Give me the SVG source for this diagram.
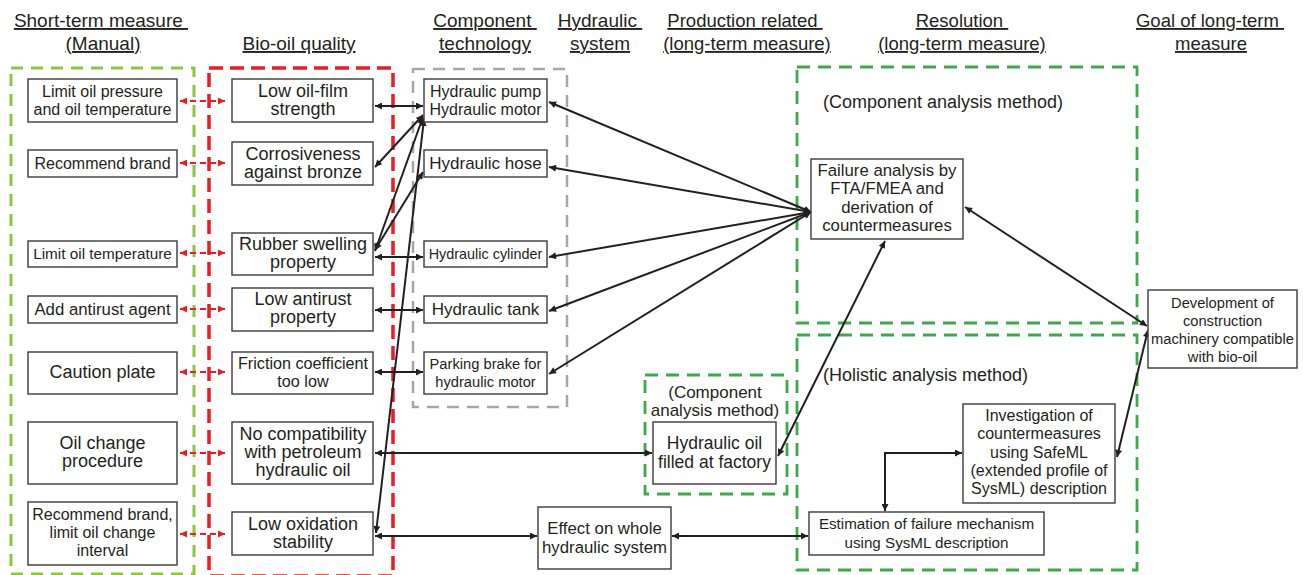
<svg xmlns="http://www.w3.org/2000/svg" width="1303" height="575" viewBox="0 0 1303 575">
  <style>
    text { font-family: "Liberation Sans", Arial, sans-serif; fill: #231f20; }
    .h { font-size: 19px; text-anchor: middle; text-decoration: underline; }
    .c { text-anchor: middle; }
    .box { fill: #ffffff; stroke: #3a3a3a; stroke-width: 1.4; }
    .grpG { fill: none; stroke: #8cc63f; stroke-width: 3; stroke-dasharray: 12 8; }
    .grpR { fill: none; stroke: #ec1c24; stroke-width: 3.5; stroke-dasharray: 14 7; }
    .grpY { fill: none; stroke: #a6a6a6; stroke-width: 2.5; stroke-dasharray: 12 8; }
    .grpD { fill: none; stroke: #3aaa4b; stroke-width: 2.8; stroke-dasharray: 13 8; }
    .ln { fill: none; stroke: #231f20; stroke-width: 2; marker-start: url(#ah); marker-end: url(#ah); }
    .lr { fill: none; stroke: #ec1c24; stroke-width: 2; stroke-dasharray: 6 4; marker-start: url(#ahr); marker-end: url(#ahr); }
  </style>
  <defs>
    <marker id="ah" viewBox="0 0 10 10" refX="10" refY="5" markerWidth="8" markerHeight="7" markerUnits="userSpaceOnUse" orient="auto-start-reverse">
      <path d="M0,0 L10,5 L0,10 z" fill="#231f20"/>
    </marker>
    <marker id="ahr" viewBox="0 0 10 10" refX="10" refY="5" markerWidth="8" markerHeight="7" markerUnits="userSpaceOnUse" orient="auto-start-reverse">
      <path d="M0,0 L10,5 L0,10 z" fill="#ec1c24"/>
    </marker>
  </defs>

  <!-- column headings -->
  <g id="headings">
    <text class="h" x="101" y="27">Short-term measure&#160;</text>
    <text class="h" x="103" y="50">(Manual)</text>
    <text class="h" x="299" y="50">Bio-oil quality</text>
    <text class="h" x="485" y="27">Component&#160;</text>
    <text class="h" x="485" y="50">technology</text>
    <text class="h" x="600" y="27">Hydraulic&#160;</text>
    <text class="h" x="600" y="50">system</text>
    <text class="h" x="745" y="27" style="font-size:18.5px">Production related&#160;</text>
    <text class="h" x="747" y="50" style="font-size:18.5px">(long-term measure)</text>
    <text class="h" x="962" y="27" style="font-size:18.5px">Resolution&#160;</text>
    <text class="h" x="962" y="50" style="font-size:18.5px">(long-term measure)</text>
    <text class="h" x="1210" y="27" style="font-size:18.5px">Goal of long-term&#160;</text>
    <text class="h" x="1211" y="50" style="font-size:18.5px">measure</text>
  </g>

  <!-- dashed grouping frames -->
  <g id="frames">
    <rect class="grpG" x="11" y="68" width="183" height="506"/>
    <rect class="grpR" x="209" y="68" width="184" height="508"/>
    <rect class="grpY" x="413" y="69" width="154" height="338"/>
    <rect class="grpD" x="797" y="67" width="340" height="256"/>
    <rect class="grpD" x="797" y="335" width="340" height="235"/>
    <rect class="grpD" x="645" y="375" width="142" height="119"/>
  </g>

  <!-- connectors -->
  <g id="connectors">
    <!-- manual measures to bio-oil quality -->
    <line class="lr" x1="180" y1="101" x2="225" y2="101"/>
    <line class="lr" x1="180" y1="163" x2="225" y2="163"/>
    <line class="lr" x1="180" y1="253" x2="225" y2="253"/>
    <line class="lr" x1="180" y1="309" x2="225" y2="309"/>
    <line class="lr" x1="180" y1="372" x2="225" y2="372"/>
    <line class="lr" x1="180" y1="453" x2="225" y2="453"/>
    <line class="lr" x1="180" y1="534" x2="225" y2="534"/>
    <!-- bio-oil quality to components -->
    <line class="ln" x1="375" y1="106" x2="423" y2="106"/>
    <line class="ln" x1="375" y1="257" x2="423" y2="257"/>
    <line class="ln" x1="375" y1="310" x2="423" y2="310"/>
    <line class="ln" x1="375" y1="372" x2="423" y2="372"/>
    <line class="ln" x1="375" y1="167" x2="423" y2="115"/>
    <line class="ln" x1="375" y1="251" x2="423" y2="117"/>
    <line class="ln" x1="375" y1="250" x2="423" y2="172"/>
    <line class="ln" x1="376" y1="533" x2="424" y2="119"/>
    <line class="ln" x1="375" y1="453" x2="652" y2="453"/>
    <line class="ln" x1="375" y1="536" x2="537" y2="536"/>
    <line class="ln" x1="672" y1="536" x2="808" y2="536"/>
    <!-- failure analysis to components -->
    <line class="ln" x1="811" y1="212" x2="549" y2="102"/>
    <line class="ln" x1="811" y1="212" x2="549" y2="167"/>
    <line class="ln" x1="811" y1="212" x2="549" y2="257"/>
    <line class="ln" x1="811" y1="212" x2="549" y2="311"/>
    <line class="ln" x1="811" y1="212" x2="549" y2="374"/>
    <line class="ln" x1="778" y1="456" x2="885" y2="241"/>
    <line class="ln" x1="965" y1="207" x2="1147" y2="326"/>
    <line class="ln" x1="1117" y1="457" x2="1148" y2="330"/>
    <polyline class="ln" points="885,511 885,453 962,453"/>
  </g>

  <!-- short-term measures -->
  <g id="m-pressure"><rect class="box" x="28" y="79" width="149" height="43"/>
    <text class="c" x="102.5" y="97" font-size="16">Limit oil pressure</text>
    <text class="c" x="102.5" y="115" font-size="16">and oil temperature</text></g>
  <g id="m-brand"><rect class="box" x="28" y="150" width="149" height="27"/>
    <text class="c" x="102.5" y="169" font-size="16">Recommend brand</text></g>
  <g id="m-temp"><rect class="box" x="28" y="241" width="149" height="26"/>
    <text class="c" x="102.5" y="259" font-size="15.3">Limit oil temperature</text></g>
  <g id="m-antirust"><rect class="box" x="28" y="296" width="149" height="27"/>
    <text class="c" x="102.5" y="315" font-size="16.8">Add antirust agent</text></g>
  <g id="m-caution"><rect class="box" x="28" y="352" width="149" height="42"/>
    <text class="c" x="102.5" y="378" font-size="18">Caution plate</text></g>
  <g id="m-change"><rect class="box" x="28" y="422" width="149" height="62"/>
    <text class="c" x="102.5" y="449" font-size="18">Oil change</text>
    <text class="c" x="102.5" y="467" font-size="18">procedure</text></g>
  <g id="m-interval"><rect class="box" x="28" y="502" width="149" height="63"/>
    <text class="c" x="102.5" y="520" font-size="16">Recommend brand,</text>
    <text class="c" x="102.5" y="538" font-size="16">limit oil change</text>
    <text class="c" x="102.5" y="556" font-size="16">interval</text></g>

  <!-- bio-oil quality -->
  <g id="q-film"><rect class="box" x="232" y="79" width="141" height="43"/>
    <text class="c" x="303" y="97" font-size="18">Low oil-film</text>
    <text class="c" x="303" y="115" font-size="18">strength</text></g>
  <g id="q-bronze"><rect class="box" x="232" y="142" width="141" height="43"/>
    <text class="c" x="303" y="160" font-size="18">Corrosiveness</text>
    <text class="c" x="303" y="178" font-size="18">against bronze</text></g>
  <g id="q-rubber"><rect class="box" x="232" y="233" width="141" height="42"/>
    <text class="c" x="303" y="250" font-size="18">Rubber swelling</text>
    <text class="c" x="303" y="268" font-size="18">property</text></g>
  <g id="q-antirust"><rect class="box" x="232" y="288" width="141" height="43"/>
    <text class="c" x="303" y="305" font-size="18">Low antirust</text>
    <text class="c" x="303" y="323" font-size="18">property</text></g>
  <g id="q-friction"><rect class="box" x="232" y="352" width="141" height="42"/>
    <text class="c" x="303" y="369" font-size="16.2">Friction coefficient</text>
    <text class="c" x="303" y="387" font-size="16.2">too low</text></g>
  <g id="q-compat"><rect class="box" x="232" y="422" width="141" height="62"/>
    <text class="c" x="303" y="440" font-size="18">No compatibility</text>
    <text class="c" x="303" y="458" font-size="18">with petroleum</text>
    <text class="c" x="303" y="476" font-size="18">hydraulic oil</text></g>
  <g id="q-oxidation"><rect class="box" x="232" y="512" width="141" height="43"/>
    <text class="c" x="303" y="530" font-size="18">Low oxidation</text>
    <text class="c" x="303" y="548" font-size="18">stability</text></g>

  <!-- hydraulic components -->
  <g id="c-pump"><rect class="box" x="424" y="79" width="123" height="43"/>
    <text class="c" x="485.5" y="97" font-size="16">Hydraulic pump</text>
    <text class="c" x="485.5" y="115" font-size="16">Hydraulic motor</text></g>
  <g id="c-hose"><rect class="box" x="424" y="150" width="123" height="27"/>
    <text class="c" x="485.5" y="169" font-size="17">Hydraulic hose</text></g>
  <g id="c-cylinder"><rect class="box" x="424" y="241" width="123" height="26"/>
    <text class="c" x="485.5" y="259" font-size="14.4">Hydraulic cylinder</text></g>
  <g id="c-tank"><rect class="box" x="424" y="296" width="123" height="27"/>
    <text class="c" x="485.5" y="315" font-size="17">Hydraulic tank</text></g>
  <g id="c-brake"><rect class="box" x="424" y="352" width="123" height="42"/>
    <text class="c" x="485.5" y="369" font-size="14.7">Parking brake for</text>
    <text class="c" x="485.5" y="387" font-size="14.7">hydraulic motor</text></g>

  <!-- production related -->
  <g id="p-factory">
    <text class="c" x="715" y="398" font-size="17">(Component</text>
    <text class="c" x="715" y="416" font-size="17">analysis method)</text>
    <rect class="box" x="653" y="422" width="123" height="62"/>
    <text class="c" x="714.5" y="449" font-size="17.5">Hydraulic oil</text>
    <text class="c" x="714.5" y="468" font-size="17.5">filled at factory</text></g>
  <g id="p-effect"><rect class="box" x="538" y="507" width="133" height="62"/>
    <text class="c" x="604.5" y="534" font-size="16.8">Effect on whole</text>
    <text class="c" x="604.5" y="553" font-size="16.8">hydraulic system</text></g>

  <!-- resolution -->
  <g id="r-component">
    <text x="823" y="108" font-size="18">(Component analysis method)</text>
    <rect class="box" x="811" y="159" width="152" height="80"/>
    <text class="c" x="887" y="176" font-size="16.8">Failure analysis by</text>
    <text class="c" x="887" y="194" font-size="16.8">FTA/FMEA and</text>
    <text class="c" x="887" y="213" font-size="16.8">derivation of</text>
    <text class="c" x="887" y="231" font-size="16.8">countermeasures</text></g>
  <g id="r-holistic">
    <text x="823" y="381" font-size="18">(Holistic analysis method)</text></g>
  <g id="r-safeml"><rect class="box" x="963" y="404" width="152" height="99"/>
    <text class="c" x="1039" y="421" font-size="16">Investigation of</text>
    <text class="c" x="1039" y="439" font-size="16">countermeasures</text>
    <text class="c" x="1039" y="458" font-size="16">using SafeML</text>
    <text class="c" x="1039" y="476" font-size="16">(extended profile of</text>
    <text class="c" x="1039" y="494" font-size="16">SysML) description</text></g>
  <g id="r-sysml"><rect class="box" x="809" y="512" width="235" height="43"/>
    <text class="c" x="926.5" y="529" font-size="15.2">Estimation of failure mechanism</text>
    <text class="c" x="926.5" y="548" font-size="15.2">using SysML description</text></g>

  <!-- goal -->
  <g id="goal"><rect class="box" x="1148" y="290" width="149" height="78"/>
    <text class="c" x="1222.5" y="308" font-size="14.7">Development of</text>
    <text class="c" x="1222.5" y="326" font-size="14.7">construction</text>
    <text class="c" x="1222.5" y="344" font-size="14.7">machinery compatible</text>
    <text class="c" x="1222.5" y="362" font-size="14.7">with bio-oil</text></g>
</svg>
